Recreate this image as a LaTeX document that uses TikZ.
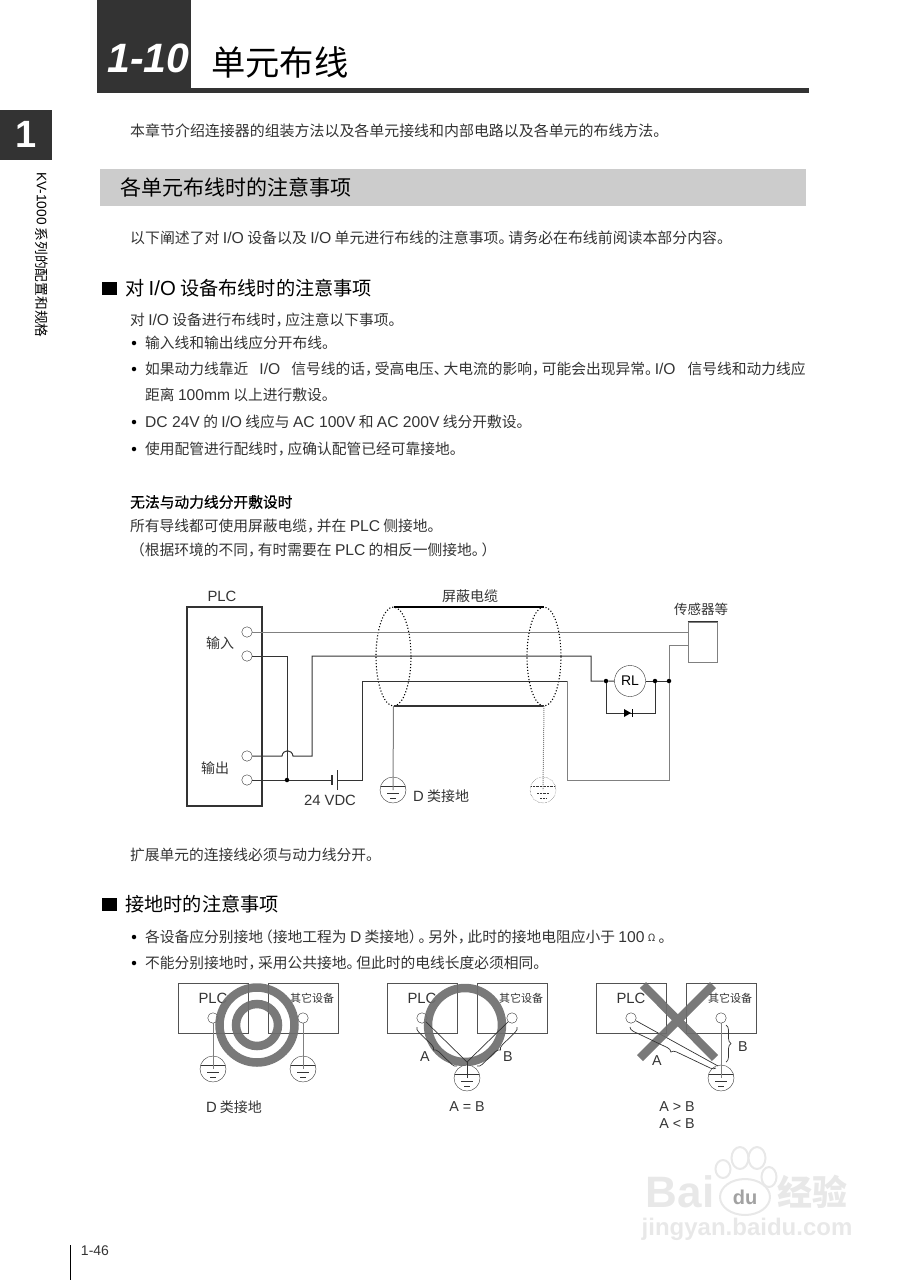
\documentclass[tikz,border=0pt]{standalone}
\usepackage{fontspec}
\setmainfont{Noto Sans CJK SC}
\newfontfamily\lat{Liberation Sans}
\newfontfamily\latb[Scale=1.06]{Liberation Sans}
\newfontfamily\medcjk[FakeBold=0.6]{Noto Sans CJK SC}
\usetikzlibrary{shapes.geometric,decorations.pathreplacing}
\newcommand{\La}[1]{{\latb #1}}
\newcommand{\fs}[1]{\fontsize{#1}{#1}\selectfont}
\newcommand{\pn}{\kern-5pt}
\definecolor{inkdark}{HTML}{333333}
\definecolor{wiredark}{HTML}{333333}
\definecolor{wirelight}{HTML}{808080}
\definecolor{ringgrey}{HTML}{6E6E6E}
\definecolor{markgrey}{HTML}{E8E8E8}
\tikzset{
  linetext/.style={anchor=west,inner sep=0,text=inkdark,font=\fs{14.75}},
  headtext/.style={anchor=west,inner sep=0,text=black,font=\fs{19.2}},
  labeltext/.style={inner sep=0,text=inkdark,font=\fs{14}},
  bulletdot/.style={circle,fill=black,inner sep=0,minimum size=4.5pt},
  headsquare/.style={fill=black,inner sep=0,minimum width=15pt,minimum height=13pt},
  term/.style={circle,draw=wiredark,fill=white,inner sep=0,minimum size=10.5pt},
  junct/.style={circle,fill=black,inner sep=0,minimum size=4.5pt},
  shield/.style={ellipse,draw=black,dotted,line width=1.1pt,inner sep=0,outer sep=0,minimum width=#1,minimum height=99pt},
  gnd/.style={circle,draw=wiredark,fill=white,inner sep=0,minimum size=26pt,#1,
    path picture={\begin{scope}[shift={(path picture bounding box.center)}]
      \draw[wiredark,#1] (-13,-4) -- (13,-4) (-6,3) -- (6,3) (-3,8) -- (3,8);
    \end{scope}}},
  gnd/.default=solid,
  unitbox/.style={draw=wiredark!85,inner sep=0,minimum width=70pt,minimum height=50pt},
  ring/.style={circle,draw=ringgrey,opacity=.92,line width=8.5pt,inner sep=0},
  wire/.style={draw=wiredark,line width=1pt},
  wirepale/.style={draw=wirelight,line width=1pt},
  bracket/.style={draw=wiredark,line width=.7pt,decorate,decoration={brace,amplitude=5pt,#1}},
  bracket/.default={},
  markpaw/.style={ellipse,draw=markgrey,line width=2pt,fill=white,inner sep=0},
}
\begin{document}
\begin{tikzpicture}[x=1pt,y=-1pt]
  \useasboundingbox (0,0) rectangle (906,1280);
  % page head
  \fill[inkdark] (97,0) rectangle (191,93);
  \fill[inkdark] (97,88) rectangle (809,93);
  \node[inner sep=0,text=white,font=\lat\bfseries\itshape\fs{41}] (chapno) at (148.5,58) {1-10};
  \node[headtext,font=\fs{34.3}] (chaptitle) at (211,62) {单元布线};
  \fill[inkdark] (0,110) rectangle (52,160);
  \node[inner sep=0,text=white,font=\lat\bfseries\fs{38}] (tabno) at (26,134) {1};
  \node[rotate=-90,anchor=west,inner sep=0,font=\fs{13.7}] (tabtext) at (42,172) {{\lat KV-1000} 系列的配置和规格};
  \node[linetext,font=\fs{14.95}] (intro) at (130,131) {本章节介绍连接器的组装方法以及各单元接线和内部电路以及各单元的布线方法。};
  \fill[black!20] (100,169) rectangle (806,206);
  \node[headtext,font=\fs{21}] (bandtitle) at (120,187) {各单元布线时的注意事项};
  \node[linetext,font=\fs{14.9}] (note) at (130,238) {以下阐述了对 \La{I/O} 设备以及 \La{I/O} 单元进行布线的注意事项。\pn 请务必在布线前阅读本部分内容。};

  % first section
  \node[headsquare] (sqa) at (109.5,288) {};
  \node[headtext] (heada) at (125,288) {对 \La{I/O} 设备布线时的注意事项};
  \node[linetext] (la) at (130,320) {对 \La{I/O} 设备进行布线时，\pn 应注意以下事项。};
  \node[bulletdot] (ba) at (134,343) {};
  \node[linetext] (lb) at (145,343) {输入线和输出线应分开布线。};
  \node[bulletdot] (bb) at (134,369) {};
  \node[linetext] (lc) at (145,369) {如果动力线靠近\hspace{11pt}\La{I/O}\hspace{11pt}信号线的话，\pn 受高电压、\pn 大电流的影响，\pn 可能会出现异常。\pn\La{I/O}\hspace{12pt}信号线和动力线应};
  \node[linetext] (ld) at (145,395) {距离 \La{100mm} 以上进行敷设。};
  \node[bulletdot] (bc) at (134,422) {};
  \node[linetext] (le) at (145,422) {\La{DC 24V} 的 \La{I/O} 线应与 \La{AC 100V} 和 \La{AC 200V} 线分开敷设。};
  \node[bulletdot] (bd) at (134,449) {};
  \node[linetext] (lf) at (145,449) {使用配管进行配线时，\pn 应确认配管已经可靠接地。};
  \node[linetext,text=black,font=\medcjk\fs{14.75}] (lg) at (130,502) {无法与动力线分开敷设时};
  \node[linetext] (lh) at (130,526) {所有导线都可使用屏蔽电缆，\pn 并在 \La{PLC} 侧接地。};
  \node[linetext] (li) at (130,550) {（根据环境的不同，\pn 有时需要在 \La{PLC} 的相反一侧接地。\pn ）};

  % cable diagram
  \node[draw=wiredark,line width=1.6pt,inner sep=0,minimum width=75pt,minimum height=199pt] (plc) at (224.5,706.5) {};
  \node[labeltext] (plclabel) at (222,596) {\La{PLC}};
  \node[labeltext] (inlabel) at (220,643) {输入};
  \node[labeltext] (outlabel) at (215,768) {输出};
  \node[term] (ina) at (247,632) {};
  \node[term] (inb) at (247,656) {};
  \node[term] (outa) at (247,756) {};
  \node[term] (outb) at (247,780) {};
  \node[shield=35pt] (cabl) at (393.5,656.5) {};
  \node[shield=34pt] (cabr) at (544,656.5) {};
  \draw[line width=1.4pt,black] (cabl.north) -- (cabr.north);
  \draw[line width=1.4pt,wiredark] (cabl.south) -- (cabr.south);
  \node[labeltext] (cablabel) at (470,596) {屏蔽电缆};
  \node[draw=wirelight,line width=1pt,inner sep=0,minimum width=29pt,minimum height=40pt] (sensor) at (702.5,642) {};
  \draw[line width=1.2pt,wiredark] (sensor.north west) -- (sensor.north east);
  \node[labeltext,font=\fs{13.5}] (senslabel) at (701,609) {传感器等};
  \node[circle,draw=wiredark,fill=white,inner sep=0,minimum size=31pt,font=\lat\fs{14}] (rl) at (630,681) {RL};
  \node[junct] (ja) at (287,780) {};
  \node[junct] (jb) at (606,681) {};
  \node[junct] (jc) at (655,681) {};
  \node[junct] (jd) at (669,681) {};
  \coordinate (hopa) at (282,756);
  \coordinate (hopb) at (293,756);
  \coordinate (batl) at (332,780);
  \coordinate (batr) at (337,780);
  \draw[wirepale] (ina) -- (ina -| sensor.west);
  \draw[wire] (inb) -- (inb -| ja) -- (ja);
  \draw[wire] (outa) -- (hopa) .. controls (283,749) and (292,749) .. (hopb) -- (312,756) -- (312,656) -- (591,656) -- (591,681) -- (jb) -- (rl);
  \draw[wire] (outb) -- (ja) -- (batl);
  \draw[wire,line width=1.6pt] (332,775) -- (332,785);
  \draw[wire,line width=.6pt] (337,770) -- (337,790);
  \draw[wire] (batr) -- (362,780) -- (362,681) -- (567,681);
  \draw[wirepale] (567,681) -- (567,780) -- (669,780) -- (jd);
  \draw[wirepale] (jd) -- (669,645) -- (688,645);
  \draw[wire] (rl) -- (jc) -- (jd);
  \draw[wire] (jb) -- (606,713) -- (655,713) -- (jc);
  \fill[black] (624,709) -- (631,713) -- (624,717) -- cycle;
  \draw[black,line width=1pt] (632,709) -- (632,717);
  \node[gnd] (gnda) at (393,790) {};
  \node[gnd=densely dotted] (gndb) at (543,790) {};
  \draw[wirepale] (cabl.south) -- (gnda.center);
  \draw[wirepale,densely dotted] (cabr.south) -- (gndb.center);
  \node[labeltext] (batlabel) at (330,800) {\La{24 VDC}};
  \node[labeltext,anchor=west] (gndlabel) at (413,796) {\La{D} 类接地};
  \node[linetext] (lj) at (130,855) {扩展单元的连接线必须与动力线分开。};

  % second section
  \node[headsquare] (sqb) at (109.5,904) {};
  \node[headtext] (headb) at (125,904) {接地时的注意事项};
  \node[bulletdot] (be) at (134,937) {};
  \node[linetext] (lk) at (145,937) {各设备应分别接地\pn（接地工程为 \La{D} 类接地）\pn。\pn 另外，\pn 此时的接地电阻应小于 \La{100} \raisebox{1.5pt}{\fs{10}Ω} 。};
  \node[bulletdot] (bf) at (134,963) {};
  \node[linetext] (ll) at (145,963) {不能分别接地时，\pn 采用公共接地。\pn 但此时的电线长度必须相同。};

  % earthing, left
  \node[unitbox] (plca) at (213,1008) {};
  \node[unitbox] (otha) at (303,1008) {};
  \node[labeltext] (plcta) at (213,998) {\La{PLC}};
  \node[labeltext,font=\fs{11}] (othta) at (312,998) {其它设备};
  \node[term] (ta) at (213,1018) {};
  \node[term] (tb) at (303,1018) {};
  \node[gnd] (ga) at (213,1069) {};
  \node[gnd] (gb) at (303,1069) {};
  \draw[wirepale] (ta) -- (ga.center);
  \draw[wirepale] (tb) -- (gb.center);
  \node[ring,minimum size=75pt] (ringa) at (257,1025) {};
  \node[ring,minimum size=42pt] (ringb) at (257,1025) {};
  \node[labeltext] (caption) at (234,1107) {\La{D} 类接地};

  % earthing, middle
  \node[unitbox] (plcb) at (422,1008) {};
  \node[unitbox] (othb) at (512,1008) {};
  \node[labeltext] (plctb) at (422,998) {\La{PLC}};
  \node[labeltext,font=\fs{11}] (othtb) at (521,998) {其它设备};
  \node[term] (tc) at (422,1018) {};
  \node[term] (td) at (512,1018) {};
  \node[ring,minimum size=74pt] (ringc) at (465,1025) {};
  \node[gnd] (gc) at (467,1078) {};
  \coordinate (jn) at (467,1062);
  \draw[wire,line width=.7pt] (tc) -- (jn) -- (td);
  \draw[wire,line width=.7pt] (jn) -- (gc.center);
  \draw[bracket=mirror] (417,1027) -- (457,1066);
  \draw[bracket] (517,1027) -- (477,1066);
  \node[labeltext,font=\latb\fs{13.5}] (aa) at (425,1057) {A};
  \node[labeltext,font=\latb\fs{13.5}] (ab) at (508,1057) {B};
  \node[labeltext,font=\latb\fs{13.5}] (capb) at (467,1107) {A = B};

  % earthing, right
  \node[unitbox] (plcc) at (631.5,1008) {};
  \node[unitbox] (othc) at (721.5,1008) {};
  \node[labeltext] (plctc) at (631,998) {\La{PLC}};
  \node[labeltext,font=\fs{11}] (othtc) at (730,998) {其它设备};
  \node[term] (te) at (631,1018) {};
  \node[term] (tf) at (721,1018) {};
  \node[gnd] (gd) at (721,1078) {};
  \coordinate (xa) at (640,1058);
  \coordinate (xb) at (713,985);
  \coordinate (xc) at (643,985);
  \coordinate (xd) at (715,1058);
  \draw[wire,line width=.7pt] (te) -- (718,1066);
  \draw[wirepale] (tf) -- (gd.center);
  \draw[ringgrey,opacity=.92,line width=8.5pt] (xa) -- (xb) (xc) -- (xd);
  \draw[bracket=mirror] (630,1027) -- (716,1068);
  \draw[bracket] (726,1025) -- (726,1062);
  \node[labeltext,font=\latb\fs{13.5}] (ac) at (657,1061) {A};
  \node[labeltext,font=\latb\fs{13.5}] (ad) at (743,1047) {B};
  \node[labeltext,font=\latb\fs{13.5}] (capc) at (677,1107) {A > B};
  \node[labeltext,font=\latb\fs{13.5}] (capd) at (677,1124) {A < B};

  % watermark
  \node[markpaw,minimum width=15pt,minimum height=18pt] (toea) at (723,1169) {};
  \node[markpaw,minimum width=17pt,minimum height=22pt] (toeb) at (740,1158) {};
  \node[markpaw,minimum width=17pt,minimum height=22pt] (toec) at (757,1158) {};
  \node[markpaw,minimum width=15pt,minimum height=20pt] (toed) at (769,1177) {};
  \node[markpaw,minimum width=50pt,minimum height=36pt,text=markgrey!70!black,font=\lat\bfseries\fs{20}] (markdu) at (745,1197) {du};
  \node[inner sep=0,text=markgrey,font=\lat\bfseries\fs{44}] (markbai) at (680,1192) {Bai};
  \node[inner sep=0,text=markgrey,font=\bfseries\fs{35}] (markcn) at (812,1192) {经验};
  \node[inner sep=0,text=markgrey,font=\lat\bfseries\fs{24}] (markurl) at (747,1229) {jingyan.baidu.com};

  % page foot
  \draw[black,line width=.9pt] (70,1245) -- (70,1280);
  \node[labeltext,font=\lat\fs{14}] (pageno) at (95,1251) {1-46};
\end{tikzpicture}
\end{document}
